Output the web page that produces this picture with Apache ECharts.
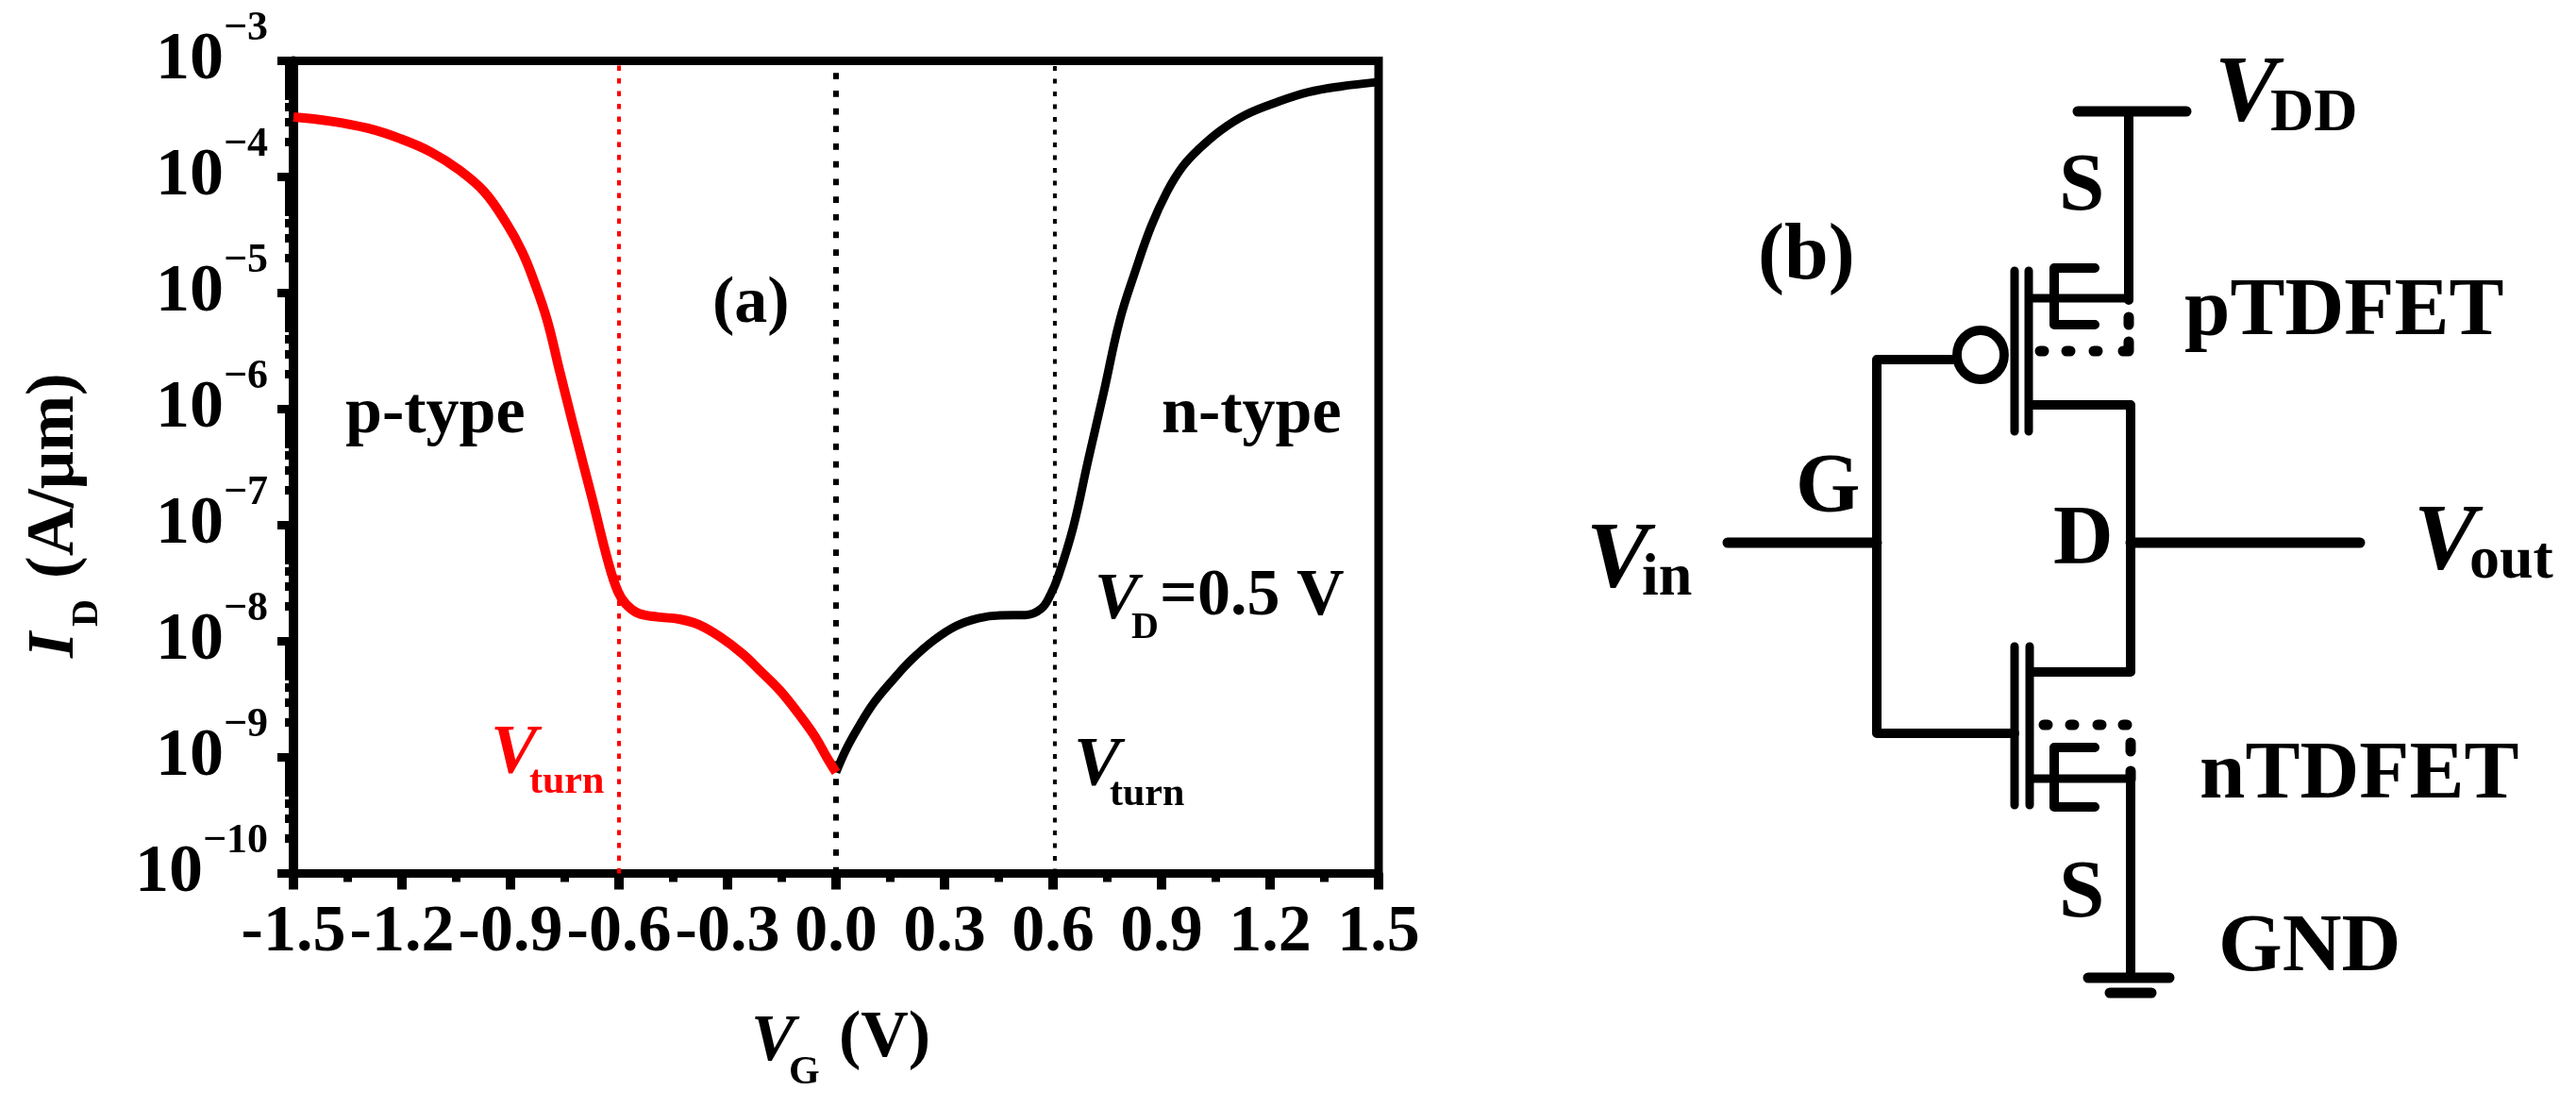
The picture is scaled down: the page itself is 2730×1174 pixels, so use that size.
<!DOCTYPE html>
<html>
<head>
<meta charset="utf-8">
<title>TDFET transfer curve and inverter</title>
<style>
  html, body { margin: 0; padding: 0; background: #fff; }
  #eChart { width: 2730px; height: 1174px; }
</style>
<script src="https://cdn.jsdelivr.net/npm/echarts@6/dist/echarts.min.js"></script>
</head>
<body>
<div id="eChart"></div>
<script>
// p-type branch, current given as log10 of A/um
var vgRed = [-1.5, -1.398, -1.294, -1.207, -1.12, -1.042, -0.972, -0.911, -0.868, -0.833, -0.798, -0.764, -0.729, -0.7, -0.673,
  -0.629, -0.603, -0.581, -0.546, -0.494, -0.433, -0.381, -0.32, -0.259, -0.207, -0.155, -0.1025, -0.059, -0.024, 0];
var logIdRed = [-3.484, -3.519, -3.581, -3.668, -3.785, -3.939, -4.129, -4.4, -4.644, -4.915, -5.24, -5.673, -6.107, -6.459, -6.785,
  -7.327, -7.571, -7.679, -7.76, -7.79, -7.809, -7.855, -7.963, -8.107, -8.262, -8.424, -8.628, -8.817, -9.007, -9.129];

// n-type branch
var vgBlack = [0, 0.028, 0.0626, 0.106, 0.158, 0.2105, 0.271, 0.332, 0.393, 0.454, 0.5236, 0.567, 0.593, 0.615, 0.656,
  0.697, 0.741, 0.784, 0.828, 0.871, 0.915, 0.958, 1.002, 1.063, 1.132, 1.219, 1.306, 1.393, 1.5];
var logIdBlack = [-9.129, -8.931, -8.736, -8.524, -8.329, -8.153, -7.99, -7.868, -7.801, -7.776, -7.774, -7.72, -7.598, -7.435, -7.015,
  -6.442, -5.844, -5.24, -4.806, -4.427, -4.128, -3.912, -3.763, -3.6, -3.465, -3.356, -3.27, -3.221, -3.182];

var vTurnRed = -0.6;
var vZero = 0;
var vTurnBlack = 0.605;
var idRange = [1e-10, 1e-3];
var minorDecades = [-10, -9, -8, -7, -6, -5, -4];
var minorMultiples = [2, 3, 4, 5, 6, 7, 8, 9];

// inverter schematic, polylines in hidden axes
var heavyWires = [
  [[2202, 118], [2317, 118]],
  [[1831, 575], [1989, 575]],
  [[2258, 575], [2501, 575]],
  [[2213, 1036], [2299, 1036]],
  [[2236, 1052], [2280, 1052]]
];
var wires = [
  [[2256, 118], [2256, 318]],
  [[1989, 777], [1989, 381], [2072, 381]],
  [[2135, 777], [1989, 777]],
  [[2155, 429], [2258, 429], [2258, 712], [2155, 712]],
  [[2258, 825], [2258, 1035]],
  [[2220, 284], [2177, 284], [2177, 344], [2220, 344]],
  [[2220, 792], [2177, 792], [2177, 855], [2220, 855]]
];
var plates = [
  [[2135, 287], [2135, 457]],
  [[2150, 287], [2150, 457]],
  [[2135, 685], [2135, 853]],
  [[2151, 685], [2151, 853]],
  [[2151, 316], [2256, 316]],
  [[2151, 825], [2257, 825]]
];
var dashes = [
  [[2162, 372], [2166, 372]], [[2190, 372], [2194, 372]], [[2219, 372], [2223, 372]], [[2250, 372], [2254, 372]],
  [[2256, 336], [2256, 344]], [[2256, 362], [2256, 372]],
  [[2166, 768], [2170, 768]], [[2194, 768], [2198, 768]], [[2223, 768], [2227, 768]], [[2250, 768], [2254, 768]],
  [[2258, 787], [2258, 796]], [[2258, 817], [2258, 826]]
];
var bubble = [[2099, 376]];

var SERIF = '"Liberation Serif", "Times New Roman", serif';

function toPairs(xs, logs) {
  return xs.map(function (x, i) { return [x, Math.pow(10, logs[i])]; });
}

function minorTickValues() {
  var out = [];
  minorDecades.forEach(function (d) {
    minorMultiples.forEach(function (m) { out.push(m * Math.pow(10, d)); });
  });
  return out;
}

function wireSeries(paths, width) {
  var data = [];
  paths.forEach(function (p) {
    p.forEach(function (pt) { data.push(pt); });
    data.push([NaN, NaN]);
  });
  return {
    type: 'line', xAxisIndex: 1, yAxisIndex: 2, data: data, showSymbol: false, silent: true, z: 3,
    lineStyle: { color: '#000', width: width, cap: 'round', join: 'round' }
  };
}

function vLine(x, color, width, dash) {
  return {
    type: 'line', xAxisIndex: 0, yAxisIndex: 0, data: [[x, idRange[0]], [x, idRange[1]]],
    showSymbol: false, silent: true, z: 1,
    lineStyle: { color: color, width: width, type: dash }
  };
}

// text placed by its baseline
function txt(s, x, base, size, opt) {
  opt = opt || {};
  return {
    type: 'text', x: x, y: base - size * (opt.italic ? 0.25 : 0.3), z: 10, silent: true,
    style: {
      text: s, fill: opt.fill || '#000', align: 'left', verticalAlign: 'middle',
      font: (opt.italic ? 'italic ' : '') + 'bold ' + size + 'px ' + SERIF
    }
  };
}

// rotated text, base is the screen x of the baseline, start the screen y where it begins
function txtUp(s, base, start, size, opt) {
  opt = opt || {};
  return {
    type: 'text', x: base - size * 0.3, y: start, rotation: Math.PI / 2, z: 10, silent: true,
    style: {
      text: s, fill: '#000', align: 'left', verticalAlign: 'middle',
      font: (opt.italic ? 'italic ' : '') + 'bold ' + size + 'px ' + SERIF
    }
  };
}

var RED = '#ff0000';

var labels = [
  txt('p-type', 366, 461, 70),
  txt('n-type', 1231, 461, 70),
  txt('(a)', 755, 344, 70),
  txt('V', 520, 818, 74, { italic: true, fill: RED }),
  txt('turn', 561, 842, 42, { fill: RED }),
  txt('V', 1138, 831, 74, { italic: true }),
  txt('turn', 1176, 855, 42),
  txt('V', 1160, 654, 70, { italic: true }),
  txt('D', 1199, 678, 40),
  txt('=0.5 V', 1229, 654, 70),
  txt('V', 796, 1122, 70, { italic: true }),
  txt('G', 836, 1150, 42),
  txt('(V)', 889, 1122, 70),
  txtUp('I', 80, 697, 70, { italic: true }),
  txtUp('D', 105, 664, 40),
  txtUp('(A/\u03bcm)', 80, 613, 71),
  txt('(b)', 1863, 298, 84),
  txt('V', 2347, 126, 100, { italic: true }),
  txt('DD', 2406, 141, 64),
  txt('S', 2182, 226, 87),
  txt('pTDFET', 2315, 358, 87),
  txt('G', 1903, 545, 88),
  txt('D', 2176, 600, 88),
  txt('V', 1681, 620, 100, { italic: true }),
  txt('in', 1740, 633, 64),
  txt('V', 2558, 601, 100, { italic: true }),
  txt('out', 2617, 615, 64),
  txt('nTDFET', 2331, 849, 87),
  txt('S', 2182, 975, 87),
  txt('GND', 2351, 1032, 87)
];

var chart = echarts.init(document.getElementById('eChart'), null, { renderer: 'canvas', devicePixelRatio: 1 });

chart.setOption({
  animation: false,
  backgroundColor: '#fff',
  grid: [
    { left: 311, top: 64.5, width: 1150, height: 861, show: true, borderColor: '#000', borderWidth: 9, containLabel: false },
    { left: 1600, top: 0, width: 1130, height: 1174, show: false }
  ],
  xAxis: [
    {
      gridIndex: 0, type: 'value', position: 'bottom', min: -1.5, max: 1.5, interval: 0.3,
      splitLine: { show: false },
      axisLine: { show: true, onZero: false, lineStyle: { color: '#000', width: 9 } },
      axisTick: { show: true, inside: false, length: 17, lineStyle: { color: '#000', width: 10 } },
      minorTick: { show: true, splitNumber: 2, length: 9, lineStyle: { color: '#000', width: 9 } },
      axisLabel: {
        show: true, interval: 0, margin: 28, color: '#000', fontFamily: SERIF, fontWeight: 'bold', fontSize: 70,
        showMinLabel: true, showMaxLabel: true, hideOverlap: false,
        formatter: function (v) { return Math.abs(v) < 1e-9 ? '0.0' : v.toFixed(1); }
      }
    },
    { gridIndex: 1, type: 'value', min: 1600, max: 2730, show: false }
  ],
  yAxis: [
    {
      gridIndex: 0, type: 'log', logBase: 10, position: 'left', min: idRange[0], max: idRange[1],
      splitLine: { show: false },
      axisLine: { show: true, onZero: false, lineStyle: { color: '#000', width: 10 } },
      axisTick: { show: true, length: 17, lineStyle: { color: '#000', width: 9 } },
      axisLabel: {
        show: true, margin: 27, color: '#000', align: 'right',
        showMinLabel: true, showMaxLabel: true, hideOverlap: false,
        formatter: function (v) {
          return '{b|10}{s|\u2212' + Math.abs(Math.round(Math.log10(v))) + '}';
        },
        rich: {
          b: { fontFamily: SERIF, fontWeight: 'bold', fontSize: 72, color: '#000', lineHeight: 72 },
          s: { fontFamily: SERIF, fontWeight: 'bold', fontSize: 44, color: '#000', lineHeight: 44, padding: [0, 0, 68, 0] }
        }
      }
    },
    {
      gridIndex: 0, type: 'log', logBase: 10, min: idRange[0], max: idRange[1], position: 'left',
      splitLine: { show: false },
      axisLine: { show: false, onZero: false },
      axisLabel: { show: false },
      axisTick: { show: true, length: 9, customValues: minorTickValues(), lineStyle: { color: '#000', width: 9 } }
    },
    { gridIndex: 1, type: 'value', min: 0, max: 1174, inverse: true, show: false }
  ],
  graphic: labels,
  series: [
    vLine(vTurnRed, RED, 4, [5.5, 8]),
    vLine(vZero, '#000', 6, [6.7, 12]),
    vLine(vTurnBlack, '#000', 4, [5, 8.5]),
    {
      name: 'n-type', type: 'line', xAxisIndex: 0, yAxisIndex: 0, data: toPairs(vgBlack, logIdBlack),
      smooth: 0.4, showSymbol: false, clip: false, z: 4, lineStyle: { color: '#000', width: 9 }
    },
    {
      name: 'p-type', type: 'line', xAxisIndex: 0, yAxisIndex: 0, data: toPairs(vgRed, logIdRed),
      smooth: 0.4, showSymbol: false, clip: false, z: 5, lineStyle: { color: RED, width: 10 }
    },
    wireSeries(heavyWires, 11),
    wireSeries(wires, 10),
    wireSeries(plates, 9),
    wireSeries(dashes, 11),
    {
      type: 'scatter', xAxisIndex: 1, yAxisIndex: 2, data: bubble, symbol: 'circle', symbolSize: [50, 52], silent: true, z: 4,
      itemStyle: { color: '#fff', borderColor: '#000', borderWidth: 10, opacity: 1 }
    }
  ]
});
</script>
</body>
</html>
